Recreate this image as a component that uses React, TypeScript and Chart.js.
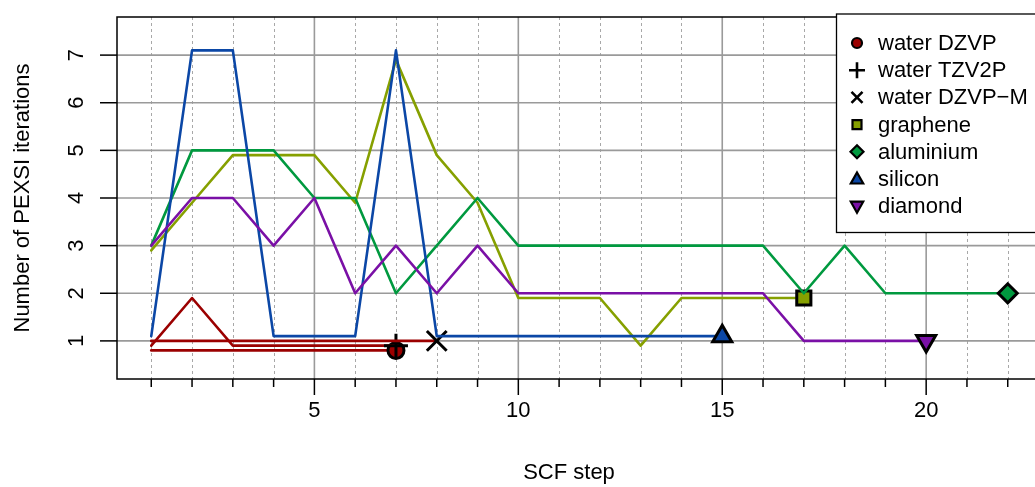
import React, { useEffect, useRef } from 'react';
import { Chart, registerables } from 'chart.js';

Chart.register(...registerables);

// ---- data ----
const seriesNames = ['water DZVP', 'water TZV2P', 'water DZVP\u2212M', 'graphene', 'aluminium', 'silicon', 'diamond'];
const waterDZVP = [0.8, 0.8, 0.8, 0.8, 0.8, 0.8, 0.8];
const waterTZV2P = [0.9, 1.9, 0.9, 0.9, 0.9, 0.9, 0.9];
const waterDZVPM = [1.0, 1.0, 1.0, 1.0, 1.0, 1.0, 1.0, 1.0];
const graphene = [2.9, 3.9, 4.9, 4.9, 4.9, 3.9, 6.9, 4.9, 3.9, 1.9, 1.9, 1.9, 0.9, 1.9, 1.9, 1.9, 1.9];
const aluminium = [3, 5, 5, 5, 4, 4, 2, 3, 4, 3, 3, 3, 3, 3, 3, 3, 2, 3, 2, 2, 2, 2];
const silicon = [1.1, 7.1, 7.1, 1.1, 1.1, 1.1, 7.1, 1.1, 1.1, 1.1, 1.1, 1.1, 1.1, 1.1, 1.1];
const diamond = [3, 4, 4, 3, 4, 2, 3, 2, 3, 2, 2, 2, 2, 2, 2, 2, 1, 1, 1, 1];
const xTickLabels = [5, 10, 15, 20];
const xMinorTicks = [1, 2, 3, 4, 5, 6, 7, 8, 9, 10, 11, 12, 13, 14, 15, 16, 17, 18, 19, 20, 21, 22];
const yTickLabels = [1, 2, 3, 4, 5, 6, 7];

// ---- styles ----
const lineColors = ['#9b0000', '#9b0000', '#9b0000', '#86a000', '#00993f', '#0b47a6', '#7a10a6'];
const fillColors = ['#9b0000', '#000000', '#000000', '#86a000', '#00993f', '#0b47a6', '#7a10a6'];
const pointStyles = ['circle', 'cross', 'crossRot', 'rect', 'rectRot', 'triangle', 'triangle'];
const pointRotations = [0, 0, 0, 0, 0, 0, 180];
const pointRadii = [8, 12, 14, 10, 9.5, 11, 11];
const allSeries = [waterDZVP, waterTZV2P, waterDZVPM, graphene, aluminium, silicon, diamond];

const FONT = '"Liberation Sans", Arial, Helvetica, sans-serif';
const FS = 22;

function drawSymbol(ctx: CanvasRenderingContext2D, kind: number, cx: number, cy: number) {
  ctx.save();
  ctx.lineWidth = 2.2;
  ctx.strokeStyle = '#000';
  ctx.fillStyle = fillColors[kind];
  ctx.beginPath();
  switch (kind) {
    case 0:
      ctx.arc(cx, cy, 5, 0, Math.PI * 2);
      ctx.fill();
      ctx.stroke();
      break;
    case 1:
      ctx.lineWidth = 2.6;
      ctx.moveTo(cx - 8, cy); ctx.lineTo(cx + 8, cy);
      ctx.moveTo(cx, cy - 8); ctx.lineTo(cx, cy + 8);
      ctx.stroke();
      break;
    case 2:
      ctx.lineWidth = 2.6;
      ctx.moveTo(cx - 5.5, cy - 5.5); ctx.lineTo(cx + 5.5, cy + 5.5);
      ctx.moveTo(cx + 5.5, cy - 5.5); ctx.lineTo(cx - 5.5, cy + 5.5);
      ctx.stroke();
      break;
    case 3:
      ctx.rect(cx - 4.5, cy - 4.5, 9, 9);
      ctx.fill();
      ctx.stroke();
      break;
    case 4:
      ctx.moveTo(cx, cy - 6.5); ctx.lineTo(cx + 6.5, cy); ctx.lineTo(cx, cy + 6.5); ctx.lineTo(cx - 6.5, cy); ctx.closePath();
      ctx.fill();
      ctx.stroke();
      break;
    case 5:
      ctx.moveTo(cx, cy - 6.5); ctx.lineTo(cx + 6.2, cy + 4.5); ctx.lineTo(cx - 6.2, cy + 4.5); ctx.closePath();
      ctx.fill();
      ctx.stroke();
      break;
    case 6:
      ctx.moveTo(cx, cy + 6.5); ctx.lineTo(cx + 6.2, cy - 4.5); ctx.lineTo(cx - 6.2, cy - 4.5); ctx.closePath();
      ctx.fill();
      ctx.stroke();
      break;
  }
  ctx.restore();
}

const decor = {
  id: 'decor',
  beforeDatasetsDraw(chart: any) {
    const { ctx, chartArea: a, scales } = chart;
    const x = scales.x, y = scales.y;
    ctx.save();
    // dotted vertical grid
    ctx.strokeStyle = '#a8a8a8';
    ctx.lineWidth = 1;
    ctx.setLineDash([3, 3]);
    for (const v of xMinorTicks) {
      if (v % 5 === 0) continue;
      const px = Math.round(x.getPixelForValue(v)) + 0.5;
      ctx.beginPath(); ctx.moveTo(px, a.top); ctx.lineTo(px, a.bottom); ctx.stroke();
    }
    ctx.setLineDash([]);
    ctx.strokeStyle = '#9a9a9a';
    ctx.lineWidth = 1.6;
    for (const v of xTickLabels) {
      const px = x.getPixelForValue(v);
      ctx.beginPath(); ctx.moveTo(px, a.top); ctx.lineTo(px, a.bottom); ctx.stroke();
    }
    for (const v of yTickLabels) {
      const py = y.getPixelForValue(v);
      ctx.beginPath(); ctx.moveTo(a.left, py); ctx.lineTo(a.right, py); ctx.stroke();
    }
    ctx.restore();
  },
  afterDatasetsDraw(chart: any) {
    const { ctx, chartArea: a, scales } = chart;
    const x = scales.x, y = scales.y;
    ctx.save();
    // box
    ctx.strokeStyle = '#000';
    ctx.lineWidth = 1.5;
    ctx.strokeRect(a.left, a.top, a.right - a.left, a.bottom - a.top);
    // x ticks
    for (const v of xMinorTicks) {
      const px = x.getPixelForValue(v);
      const len = v % 5 === 0 ? 16 : 8;
      ctx.beginPath(); ctx.moveTo(px, a.bottom); ctx.lineTo(px, a.bottom + len); ctx.stroke();
    }
    // y ticks
    for (const v of yTickLabels) {
      const py = y.getPixelForValue(v);
      ctx.beginPath(); ctx.moveTo(a.left, py); ctx.lineTo(a.left - 17, py); ctx.stroke();
    }
    ctx.fillStyle = '#000';
    ctx.font = `${FS}px ${FONT}`;
    ctx.textAlign = 'center';
    ctx.textBaseline = 'middle';
    for (const v of xTickLabels) {
      ctx.fillText(String(v), x.getPixelForValue(v), 411);
    }
    for (const v of yTickLabels) {
      const py = y.getPixelForValue(v);
      ctx.save();
      ctx.translate(77, py);
      ctx.rotate(-Math.PI / 2);
      ctx.fillText(String(v), 0, 0);
      ctx.restore();
    }
    // axis titles
    ctx.fillText('SCF step', 569, 473);
    ctx.save();
    ctx.translate(23, (a.top + a.bottom) / 2);
    ctx.rotate(-Math.PI / 2);
    ctx.fillText('Number of PEXSI iterations', 0, 0);
    ctx.restore();
    // legend
    const lx = 836.5, ly = 14;
    ctx.fillStyle = '#fff';
    ctx.fillRect(lx, ly, 240, 218.5);
    ctx.strokeStyle = '#000';
    ctx.lineWidth = 1.3;
    ctx.strokeRect(lx, ly, 240, 218.5);
    ctx.textAlign = 'left';
    for (let i = 0; i < seriesNames.length; i++) {
      const cy = 43 + i * 27.2;
      drawSymbol(ctx, i, 857, cy);
      ctx.fillStyle = '#000';
      ctx.fillText(seriesNames[i], 878, cy + 1);
    }
    ctx.restore();
  },
};

export default function App() {
  const ref = useRef<HTMLCanvasElement | null>(null);
  useEffect(() => {
    if (!ref.current) return;
    const datasets = allSeries.map((vals, k) => {
      const last = vals.length - 1;
      return {
        label: seriesNames[k],
        data: vals.map((v, i) => ({ x: i + 1, y: v })),
        borderColor: lineColors[k],
        backgroundColor: fillColors[k],
        borderWidth: 2.6,
        borderJoinStyle: 'round' as const,
        borderCapStyle: 'round' as const,
        tension: 0,
        fill: false,
        order: seriesNames.length - k,
        pointStyle: pointStyles[k] as any,
        rotation: pointRotations[k],
        pointRadius: (c: any) => (c.dataIndex === last ? pointRadii[k] : 0),
        pointHoverRadius: 0,
        pointBackgroundColor: fillColors[k],
        pointBorderColor: '#000',
        pointBorderWidth: 3,
        clip: false as any,
      };
    });
    const chart = new Chart(ref.current, {
      type: 'line',
      data: { datasets },
      options: {
        animation: false,
        responsive: false,
        events: [],
        layout: { padding: { left: 117, top: 14, right: 18, bottom: 108 } },
        plugins: { legend: { display: false }, tooltip: { enabled: false }, title: { display: false } },
        scales: {
          x: { type: 'linear', min: 0.16, max: 22.84, display: false },
          y: { type: 'linear', min: 0.2, max: 7.8, display: false },
        },
      },
      plugins: [decor],
    });
    return () => chart.destroy();
  }, []);
  return (
    <div style={{ position: 'absolute', left: 0, top: 0, width: 1035, height: 487, overflow: 'hidden', background: '#fff' }}>
      <canvas ref={ref} width={1060} height={487} style={{ display: 'block', width: 1060, height: 487 }} />
    </div>
  );
}
